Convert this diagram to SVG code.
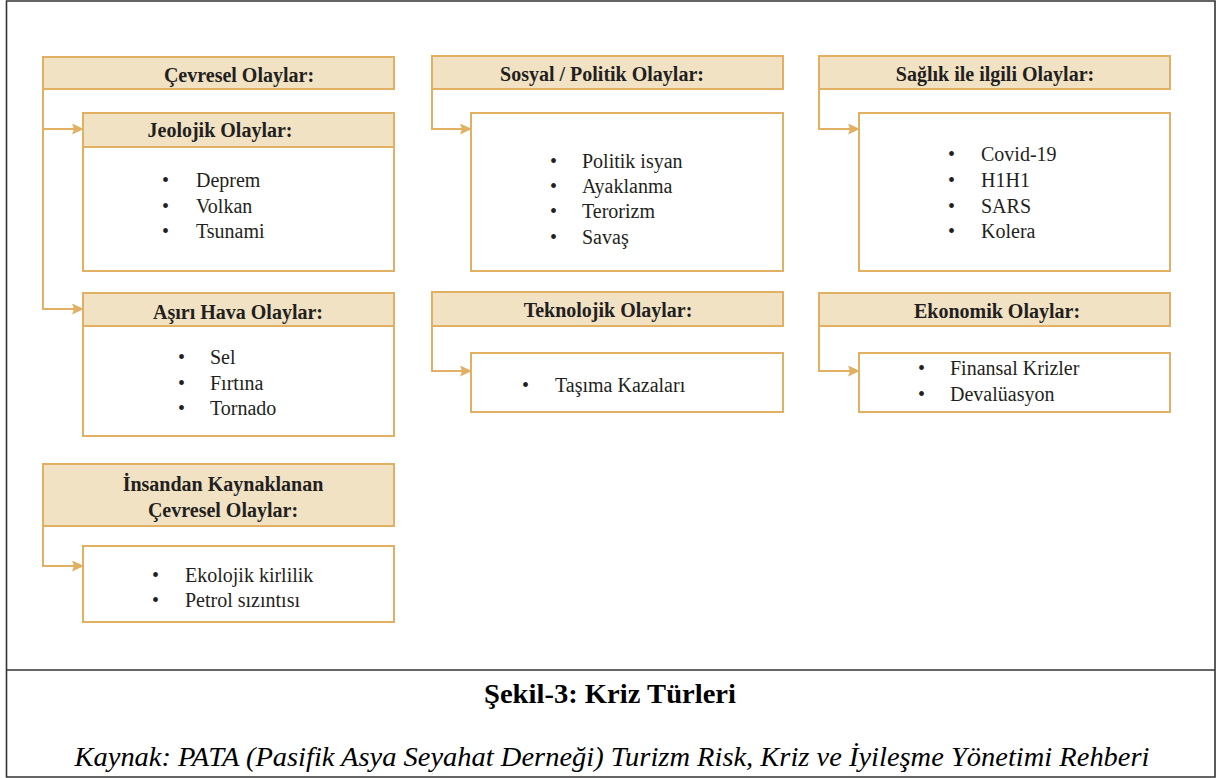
<svg xmlns="http://www.w3.org/2000/svg" width="1227" height="778" viewBox="0 0 1227 778">
<style>
.hd{fill:#F1E2C4;stroke:#E2B062;stroke-width:2}
.bx{fill:#FFFFFF;stroke:#E2B062;stroke-width:2}
.ht{font-family:"Liberation Serif",serif;font-weight:bold;font-size:20px;fill:#231F20;text-anchor:middle}
.it{font-family:"Liberation Serif",serif;font-size:20px;fill:#231F20}
.cn{fill:none;stroke:#E2B062;stroke-width:2}
</style>
<defs>
<marker id="ar" markerWidth="12" markerHeight="11" refX="11" refY="5.5" orient="auto" markerUnits="userSpaceOnUse">
<path d="M0,0 L12,5.5 L0,11 L2,5.5 Z" fill="#E2B062"/>
</marker>
</defs>
<rect x="0" y="0" width="1227" height="778" fill="#FFFFFF"/>
<g id="frame" fill="none" stroke="#333333" stroke-width="1.6">
<path d="M6.5,1 H1215 V777 H6.5 Z"/>
<path d="M6.5,670 H1215"/>
</g>
<g id="connectors">
<path class="cn" d="M43,89 V129 H83" marker-end="url(#ar)"/>
<path class="cn" d="M43,129 V309 H83" marker-end="url(#ar)"/>
<path class="cn" d="M43,526 V566 H83" marker-end="url(#ar)"/>
<path class="cn" d="M432,89 V129 H471" marker-end="url(#ar)"/>
<path class="cn" d="M432,326 V371 H471" marker-end="url(#ar)"/>
<path class="cn" d="M819,89 V129 H859" marker-end="url(#ar)"/>
<path class="cn" d="M819,326 V371 H859" marker-end="url(#ar)"/>
</g>
<g id="cevresel">
<rect class="hd" x="43" y="57" width="351" height="32"/>
<text class="ht" x="239" y="82">Çevresel Olaylar:</text>
</g>
<g id="jeolojik">
<rect class="bx" x="83" y="113" width="311" height="158"/>
<rect class="hd" x="83" y="113" width="311" height="34"/>
<text class="ht" x="220" y="137">Jeolojik Olaylar:</text>
<text class="it" x="162" y="187">•</text><text class="it" x="196" y="187">Deprem</text>
<text class="it" x="162" y="213">•</text><text class="it" x="196" y="213">Volkan</text>
<text class="it" x="162" y="238">•</text><text class="it" x="196" y="238">Tsunami</text>
</g>
<g id="asiri">
<rect class="bx" x="83" y="293" width="311" height="143"/>
<rect class="hd" x="83" y="293" width="311" height="33"/>
<text class="ht" x="238" y="319">Aşırı Hava Olaylar:</text>
<text class="it" x="178" y="364">•</text><text class="it" x="210" y="364">Sel</text>
<text class="it" x="178" y="390">•</text><text class="it" x="210" y="390">Fırtına</text>
<text class="it" x="178" y="415">•</text><text class="it" x="210" y="415">Tornado</text>
</g>
<g id="insandan">
<rect class="hd" x="43" y="464" width="351" height="62"/>
<text class="ht" x="223" y="491">İnsandan Kaynaklanan</text>
<text class="ht" x="223" y="517">Çevresel Olaylar:</text>
</g>
<g id="insandan-items">
<rect class="bx" x="83" y="546" width="311" height="76"/>
<text class="it" x="152" y="582">•</text><text class="it" x="185" y="582">Ekolojik kirlilik</text>
<text class="it" x="152" y="607">•</text><text class="it" x="185" y="607">Petrol sızıntısı</text>
</g>
<g id="sosyal">
<rect class="hd" x="432" y="56" width="351" height="33"/>
<text class="ht" x="602" y="81">Sosyal / Politik Olaylar:</text>
</g>
<g id="sosyal-items">
<rect class="bx" x="471" y="113" width="312" height="158"/>
<text class="it" x="550" y="168">•</text><text class="it" x="582" y="168">Politik isyan</text>
<text class="it" x="550" y="193">•</text><text class="it" x="582" y="193">Ayaklanma</text>
<text class="it" x="550" y="218">•</text><text class="it" x="582" y="218">Terorizm</text>
<text class="it" x="550" y="244">•</text><text class="it" x="582" y="244">Savaş</text>
</g>
<g id="teknolojik">
<rect class="hd" x="432" y="292" width="351" height="34"/>
<text class="ht" x="608" y="317">Teknolojik Olaylar:</text>
</g>
<g id="teknolojik-items">
<rect class="bx" x="471" y="353" width="312" height="59"/>
<text class="it" x="522" y="392">•</text><text class="it" x="555" y="392">Taşıma Kazaları</text>
</g>
<g id="saglik">
<rect class="hd" x="819" y="56" width="351" height="33"/>
<text class="ht" x="995" y="81">Sağlık ile ilgili Olaylar:</text>
</g>
<g id="saglik-items">
<rect class="bx" x="859" y="113" width="311" height="158"/>
<text class="it" x="948" y="161">•</text><text class="it" x="981" y="161">Covid-19</text>
<text class="it" x="948" y="187">•</text><text class="it" x="981" y="187">H1H1</text>
<text class="it" x="948" y="213">•</text><text class="it" x="981" y="213">SARS</text>
<text class="it" x="948" y="238">•</text><text class="it" x="981" y="238">Kolera</text>
</g>
<g id="ekonomik">
<rect class="hd" x="819" y="293" width="351" height="33"/>
<text class="ht" x="997" y="318">Ekonomik Olaylar:</text>
</g>
<g id="ekonomik-items">
<rect class="bx" x="859" y="353" width="311" height="59"/>
<text class="it" x="918" y="375">•</text><text class="it" x="950" y="375">Finansal Krizler</text>
<text class="it" x="918" y="401">•</text><text class="it" x="950" y="401">Devalüasyon</text>
</g>
<g id="caption">
<text x="610" y="703" font-family="Liberation Serif, serif" font-weight="bold" font-size="27" fill="#000000" text-anchor="middle" textLength="252" lengthAdjust="spacingAndGlyphs">Şekil-3: Kriz Türleri</text>
<text x="612" y="766" font-family="Liberation Serif, serif" font-style="italic" font-size="27" fill="#000000" text-anchor="middle" textLength="1075" lengthAdjust="spacingAndGlyphs">Kaynak: PATA (Pasifik Asya Seyahat Derneği) Turizm Risk, Kriz ve İyileşme Yönetimi Rehberi</text>
</g>
</svg>
